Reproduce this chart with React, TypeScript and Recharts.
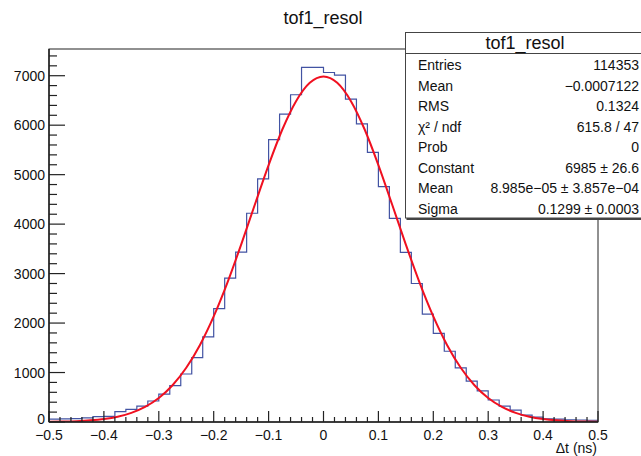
import React from "react"
import { ComposedChart, Line, XAxis, YAxis } from "recharts"

// histogram tof1_resol : 50 bins from -0.5 to 0.5 ns
const BIN_LOW = -0.5
const BIN_WIDTH = 0.02
const binCounts = [
   60, 65, 70, 85, 110, 115, 210, 255, 320, 425,
   565, 735, 970, 1300, 1720, 2290, 2910, 3435, 4220, 4915,
   5710, 6225, 6615, 7170, 7170, 7065, 7010, 6525, 6025, 5450,
   4760, 4115, 3430, 2800, 2180, 1790, 1430, 1095, 825, 630,
   445, 320, 240, 140, 100, 65, 60, 45, 40, 35,
]

// gaus fit curve
const fitX = [
   -0.5, -0.475, -0.45, -0.425, -0.4, -0.375, -0.35, -0.325, -0.3, -0.275,
   -0.25, -0.225, -0.2, -0.175, -0.15, -0.125, -0.1, -0.075, -0.05, -0.025,
   0,
   0.025, 0.05, 0.075, 0.1, 0.125, 0.15, 0.175, 0.2, 0.225, 0.25,
   0.275, 0.3, 0.325, 0.35, 0.375, 0.4, 0.425, 0.45, 0.475, 0.5,
]
const fitY = [
   4, 9, 17, 33, 61, 108, 185, 305, 485, 743,
   1096, 1558, 2135, 2818, 3586, 4396, 5194, 5913, 6486, 6857,
   6985,
   6857, 6486, 5913, 5194, 4396, 3586, 2818, 2135, 1558, 1096,
   743, 485, 305, 185, 108, 61, 33, 17, 9, 4,
]

const xMajorTicks = [-0.5, -0.4, -0.3, -0.2, -0.1, 0, 0.1, 0.2, 0.3, 0.4, 0.5]
const yMajorTicks = [0, 1000, 2000, 3000, 4000, 5000, 6000, 7000]
const Y_MAX = 7540

const statLabels = ["Entries", "Mean", "RMS", "χ² / ndf", "Prob", "Constant", "Mean", "Sigma"]
const statValues = [
   "114353", "\u22120.0007122", "0.1324", "615.8 / 47", "0",
   "6985 \u00b1 26.6", "8.985e\u221205 \u00b1 3.857e\u221204", "0.1299 \u00b1 0.0003",
]

const FONT = "'Liberation Sans', Arial, Helvetica, sans-serif"
const AXIS_COLOR = "#222"

const r3 = (v: number) => Math.round(v * 1000) / 1000

const histData = binCounts.map((n, i) => ({ x: r3(BIN_LOW + i * BIN_WIDTH), n }))
histData.push({ x: r3(BIN_LOW + binCounts.length * BIN_WIDTH), n: binCounts[binCounts.length - 1] })

const fitData = fitX.map((x, i) => ({ x, f: fitY[i] }))

// 5 minor divisions per major
const xTicks: number[] = []
for (let i = 0; i < xMajorTicks.length - 1; i++) {
   const step = (xMajorTicks[i + 1] - xMajorTicks[i]) / 5
   for (let k = 0; k < 5; k++) xTicks.push(r3(xMajorTicks[i] + k * step))
}
xTicks.push(xMajorTicks[xMajorTicks.length - 1])

const yTicks: number[] = []
yMajorTicks.forEach((v) => {
   for (let k = 0; k < 5; k++) {
      const t = v + k * 200
      if (t <= Y_MAX) yTicks.push(t)
   }
})

const fmt = (v: number) => (v < 0 ? "\u2212" + String(-v) : String(v))

const XTick = (props: any) => {
   const { x, y, payload } = props
   const v = payload.value
   const major = xMajorTicks.some((m) => Math.abs(m - v) < 1e-6)
   return (
      <g>
         <line x1={x} x2={x} y1={y} y2={y - (major ? 11 : 5)} stroke={AXIS_COLOR} strokeWidth={1.2} />
         {major && (
            <text x={x} y={y + 13} textAnchor="middle" dominantBaseline="central" fontSize={14} fontFamily={FONT} fill="#111">
               {fmt(v)}
            </text>
         )}
      </g>
   )
}

const YTick = (props: any) => {
   const { x, y, payload } = props
   const v = payload.value
   const major = yMajorTicks.includes(v)
   // the "0" label sits just above the x labels
   const dy = v === 0 ? -3 : 0
   return (
      <g>
         <line x1={x} x2={x + (major ? 16 : 8)} y1={y} y2={y} stroke={AXIS_COLOR} strokeWidth={1.2} />
         {major && (
            <text x={x - 4} y={y + dy} textAnchor="end" dominantBaseline="central" fontSize={14} fontFamily={FONT} fill="#111">
               {v}
            </text>
         )}
      </g>
   )
}

const StatsBox = () => {
   const left = 405.5
   const top = 32.5
   const right = 645
   const bottom = 218
   return (
      <g fontFamily={FONT} fill="#111">
         <rect x={left} y={top} width={right - left} height={bottom - top} fill="#fff" stroke="#444" strokeWidth={1} />
         <line x1={left + 1} x2={right} y1={bottom + 1} y2={bottom + 1} stroke="#444" strokeWidth={2} />
         <line x1={left} x2={right} y1={53.5} y2={53.5} stroke="#444" strokeWidth={1} />
         <text x={525} y={43} textAnchor="middle" dominantBaseline="central" fontSize={18}>tof1_resol</text>
         {statLabels.map((lab, i) => (
            <g key={i}>
               <text x={418} y={65 + i * 20.5} dominantBaseline="central" fontSize={14}>{lab}</text>
               <text x={639} y={65 + i * 20.5} textAnchor="end" dominantBaseline="central" fontSize={14}>{statValues[i]}</text>
            </g>
         ))}
      </g>
   )
}

export default function App() {
   return (
      <div style={{ position: "absolute", left: 0, top: 0, width: 641, height: 456, background: "#fff" }}>
         <ComposedChart width={641} height={456} margin={{ top: 49, right: 43, bottom: 0, left: 0 }}>
            <XAxis
               type="number"
               dataKey="x"
               domain={[-0.5, 0.5]}
               ticks={xTicks}
               interval={0}
               allowDataOverflow
               height={34}
               tickSize={0}
               tickMargin={0}
               tickLine={false}
               axisLine={{ stroke: AXIS_COLOR, strokeWidth: 1.5 }}
               tick={<XTick />}
            />
            <YAxis
               type="number"
               domain={[0, Y_MAX]}
               ticks={yTicks}
               interval={0}
               allowDataOverflow
               width={49}
               tickSize={0}
               tickMargin={0}
               tickLine={false}
               axisLine={{ stroke: AXIS_COLOR, strokeWidth: 1.5 }}
               tick={<YTick />}
            />
            <Line
               data={histData}
               dataKey="n"
               type="stepAfter"
               stroke="#4253a3"
               strokeWidth={1.2}
               dot={false}
               activeDot={false}
               isAnimationActive={false}
            />
            <Line
               data={fitData}
               dataKey="f"
               type="monotone"
               stroke="#f01020"
               strokeWidth={2}
               dot={false}
               activeDot={false}
               isAnimationActive={false}
            />
         </ComposedChart>
         <svg width={641} height={456} style={{ position: "absolute", left: 0, top: 0, pointerEvents: "none" }}>
            <rect x={49} y={49} width={549} height={373} fill="none" stroke={AXIS_COLOR} strokeWidth={1} />
            <text x={323} y={18} textAnchor="middle" dominantBaseline="central" fontSize={18} fontFamily={FONT} fill="#111">
               tof1_resol
            </text>
            <text x={597} y={448} textAnchor="end" dominantBaseline="central" fontSize={14} fontFamily={FONT} fill="#111">
               {"\u0394t (ns)"}
            </text>
            <StatsBox />
         </svg>
      </div>
   )
}
